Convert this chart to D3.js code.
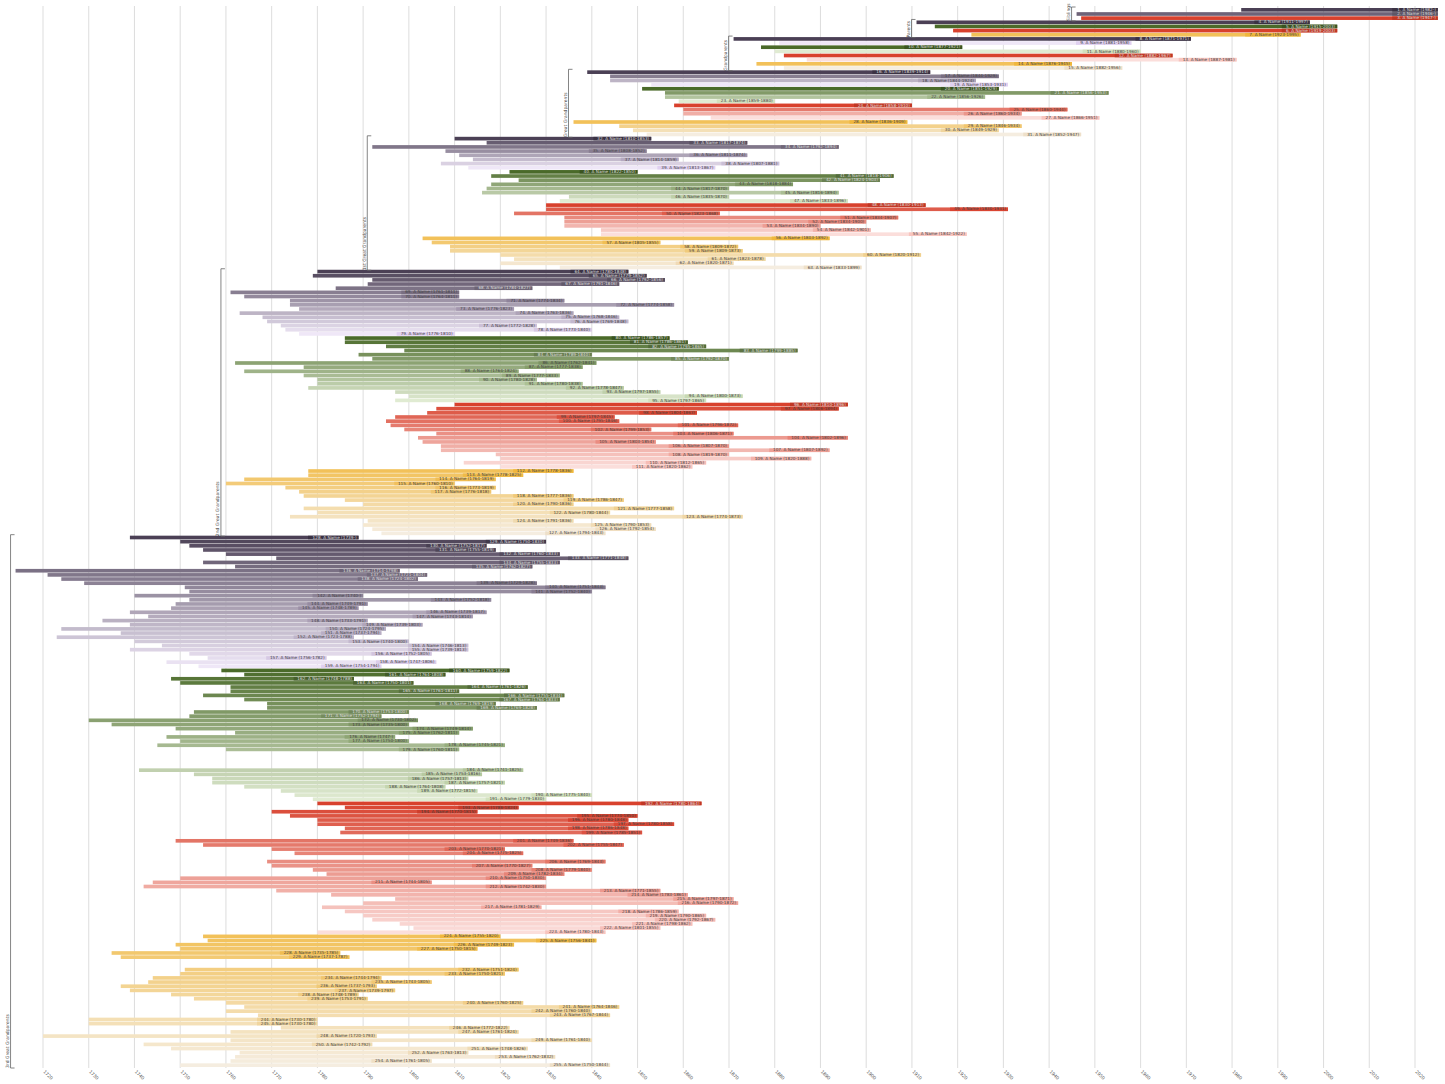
<!DOCTYPE html>
<html><head><meta charset="utf-8">
<script src="https://cdn.jsdelivr.net/npm/d3@7"></script>
<style>body{margin:0;background:#fff;font-family:"DejaVu Sans",sans-serif}</style>
</head><body><svg id="c" width="1445" height="1084"></svg>
<script>
// births / deaths per row (row number = index+1); null birth = empty row, null death = unknown
const births = [1982,1946,1947, 1911,1915,1919,1923,
1871,1881,1877,1880,1882,1887,1876,1882,
1839,1844,1844,1853,1851,1856,1856,1859,1858,1860,1860,1866,1836,1846,1849,1852,
1810,1817,1792,1808,1811,1814,1807,1813,1822,1818,1824,1818,1817,1816,1835,1833,1830,1830,1823,1834,1834,1834,1842,1842,1803,1805,1809,1809,1820,1823,1820,1833,
1780,1779,1792,1791,1784,1761,1764,1774,1774,1776,1763,1768,1769,1772,1773,1776,1786,1786,1795,1799,1789,1792,1762,1777,1764,1777,1780,1780,1778,1797,1800,1797,1810,1806,1804,1797,1795,1796,1799,1806,1802,1803,1807,1807,1819,1820,1812,1820,1778,1778,1764,1760,1773,1776,1777,1786,1790,1777,1780,1774,1791,1790,1792,1794,
1739,1750,1752,1755,1760,1771,1755,1762,1714,1721,1724,1729,1751,1752,1740,1752,1749,1748,1739,1743,1733,1739,1724,1737,1723,1740,1746,1739,1752,1756,1747,1754,
1759,1764,1748,1750,1761,1761,1755,1764,1769,1769,1753,1752,1730,1735,1749,1762,1747,1750,1745,1760,null,null,null,null,1741,1753,1757,1757,1764,1772,1775,1779,
1780,1786,1770,1774,1780,1780,1786,1785,null,1749,1755,1770,1775,null,1769,1770,1779,1782,1750,1744,1742,1771,1783,1797,1790,1781,1786,1790,1792,1798,1801,1780,
1755,1756,1749,1750,1735,1737,null,null,1751,1750,1744,1743,1737,1739,1748,1753,1760,1764,1760,1767,1730,1730,1772,1761,1720,1761,1742,1748,1763,1762,1761,1750];
const deaths = [null,null,null, 1997,2003,2003,1995,
1971,1958,1921,1960,1967,1981,1945,1956,
1914,1929,1924,1931,1929,1953,1926,1880,1910,1944,1934,1951,1909,1934,1929,1947,
1853,1874,1894,1852,1874,1859,1881,1867,1850,1906,1903,1884,1870,1894,1870,1896,1913,1931,1868,1907,1900,1890,1901,1922,1892,1855,1872,1873,1912,1878,1871,1899,
1848,1852,1856,1846,1827,1811,1811,1834,1858,1823,1836,1846,1848,1828,1840,1810,1857,1861,1865,1885,1840,1870,1841,1838,1824,1833,1828,1838,1847,1855,1873,1865,1896,1894,1863,1845,1846,1872,1853,1871,1896,1854,1870,1892,1870,1888,1865,1862,1836,1825,1819,1810,1819,1818,1836,1847,1836,1858,1844,1873,1836,1853,1854,1843,
null,1830,1817,1819,1833,1848,1833,1827,1798,1804,1802,1828,1843,1840,null,1818,1791,1789,1817,1814,1791,1803,1795,1794,1788,1800,1813,1813,1805,1782,1806,1794,
1822,1808,1788,1801,1826,1811,1834,1833,1819,1828,1800,1794,1802,1800,1814,1811,null,1800,1821,1811,null,null,null,null,1825,1816,1813,1821,1808,1815,1840,1830,
1864,1824,1815,1850,1848,1858,1848,1851,null,1836,1847,1821,1825,null,1843,1827,1840,1834,1830,1805,1830,1855,1861,1871,1872,1829,1859,1865,1867,1862,1855,1843,
1820,1841,1823,1815,1785,1787,null,null,1824,1821,1794,1805,1793,1797,1789,1791,1825,1846,1840,1844,1780,1780,1822,1824,1793,1840,1792,1826,1813,1832,1805,1844];
const generationSizes = [3,4,8,16,32,64,128];
const generationNames = ["Siblings","Parents","Grandparents","Great Grandparents","1st Great Grandparents","2nd Great Grandparents","3rd Great Grandparents"];
const tickYears = d3.range(1720,2021,10);

const svg = d3.select("#c");
const x = d3.scaleLinear().domain([1720,2020]).range([43,1415]);
const N = births.length;
const y = d3.scaleBand().domain(d3.range(N)).range([8,1067]).paddingInner(0.12);

const hues = [["#4b4055","#efe7f7"],["#4a6a29","#e0ebd2"],["#d8412d","#fbdedb"],["#f2c159","#f5ede0"]];
function colorFor(i){
  let start=0,g=0;
  while(i>=start+generationSizes[g]){start+=generationSizes[g];g++;}
  const k=i-start, n=generationSizes[g];
  if(g===0) return ["#4b4055","#6e6378","#d8412d"][k];
  const q=n/4, h=Math.floor(k/q), t=q>1?(k%q)/(q-1):0;
  return d3.interpolateRgb(hues[h][0],hues[h][1])(Math.pow(t,0.9));
}
// grid
svg.append("g").selectAll("line").data(tickYears).join("line")
  .attr("x1",d=>x(d)).attr("x2",d=>x(d)).attr("y1",6).attr("y2",1068)
  .attr("stroke","#d4d4d4").attr("stroke-width",0.8);
svg.append("g").selectAll("text").data(tickYears).join("text")
  .attr("transform",d=>`translate(${x(d)},1072) rotate(45)`)
  .attr("font-size",4.5).attr("fill","#555").text(d=>d);

const rows = d3.range(N).map(i=>{
  const b=births[i]; if(b==null) return null;
  let d=deaths[i];
  const end = d!=null? d : (b>1900?2025:b+50);
  return {i,b,d,end,c:colorFor(i)};
}).filter(r=>r);
const bars = svg.append("g");
bars.selectAll("rect").data(rows).join("rect")
  .attr("x",r=>x(r.b)).attr("y",r=>y(r.i)).attr("width",r=>Math.max(1,Math.min(x(r.end),1440)-x(r.b)))
  .attr("height",y.bandwidth()).attr("fill",r=>r.c);
const lab = svg.append("g").attr("font-size",4.2);
rows.forEach(r=>{
  const t=`${r.i+1}. A Name (${r.b}-${r.d!=null?r.d:""})`;
  const w=t.length*2.45+4;
  const xe=Math.min(x(r.end),1438);
  const col=d3.color(r.c);
  const bg=d3.hsl(col); bg.l=Math.max(0,bg.l-0.08);
  lab.append("rect").attr("x",xe-w).attr("y",y(r.i)).attr("width",w).attr("height",y.bandwidth())
    .attr("fill",bg.formatRgb()).attr("opacity",0.75);
  lab.append("text").attr("x",xe-2).attr("y",y(r.i)+y.bandwidth()-0.7).attr("text-anchor","end")
    .attr("fill",bg.l<0.45?"#ddd":"#444").text(t);
});
// brackets
let s=0;
generationSizes.forEach((n,g)=>{
  const idx=d3.range(s,s+n).filter(i=>births[i]!=null);
  const bx=x(d3.min(idx,i=>births[i]))-5;
  const y0=y(s)-1, y1=y(s+n-1)+y.bandwidth()+1;
  const gg=svg.append("g").attr("stroke","#666").attr("stroke-width",0.8).attr("fill","none");
  gg.append("path").attr("d",`M${bx+4},${y0}H${bx}V${y1}H${bx+4}`);
  svg.append("text").attr("transform",`translate(${bx-1.5},${y1}) rotate(-90)`)
    .attr("font-size",4.5).attr("fill","#444").text(generationNames[g]);
  s+=n;
});
</script></body></html>
